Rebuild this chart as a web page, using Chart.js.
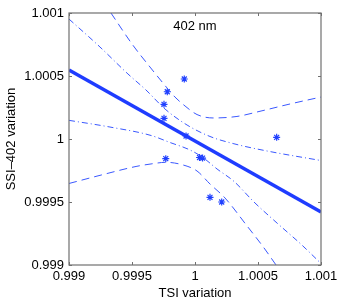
<!DOCTYPE html>
<html><head><meta charset="utf-8">
<script src="https://cdn.jsdelivr.net/npm/chart.js@4/dist/chart.umd.min.js"></script>
<style>html,body{margin:0;padding:0;background:#fff}canvas{display:block}</style>
</head><body>
<canvas id="c" width="343" height="306"></canvas>
<script>
const xTickValues = [0.999, 0.9995, 1, 1.0005, 1.001];
const xTickLabels = ['0.999', '0.9995', '1', '1.0005', '1.001'];
const yTickValues = [0.999, 0.9995, 1, 1.0005, 1.001];
const yTickLabels = ['0.999', '0.9995', '1', '1.0005', '1.001'];

const obsTSI = [0.999915, 0.999780, 0.999754, 0.999754, 0.999929, 0.999768, 1.000036, 1.000060, 1.000119, 1.000212, 1.000648];
const obsSSI = [1.000476, 1.000375, 1.000275, 1.000164, 1.000024, 0.999844, 0.999853, 0.999849, 0.999537, 0.999500, 1.000013];

const fitTSI = [0.999, 1.001];
const fitSSI = [1.000548, 0.999421];

const innerUpTSI = [0.999, 0.999246, 0.999468, 0.999611, 0.999762, 0.999937, 1.000119, 1.000302, 1.000571, 1.001];
const innerUpSSI = [1.000952, 1.000730, 1.000516, 1.000389, 1.000238, 1.000111, 1.000020, 0.999964, 0.999905, 0.999829];
const innerLoTSI = [0.999, 0.999325, 0.999651, 0.999802, 0.999960, 1.000063, 1.000175, 1.000310, 1.000468, 1.000651, 1.000839, 1.001];
const innerLoSSI = [1.000148, 1.000095, 1.000028, 0.999972, 0.999913, 0.999853, 0.999762, 0.999663, 0.999500, 0.999333, 0.999167, 0.999012];

const outerUpTSI = [0.999333, 0.999506, 0.999643, 0.999746, 0.999841, 0.999921, 1.000016, 1.000143, 1.000333, 1.000524, 1.000754, 1.001];
const outerUpSSI = [1.001, 1.000746, 1.000571, 1.000444, 1.000333, 1.000262, 1.000194, 1.000167, 1.000179, 1.000222, 1.000278, 1.000333];
const outerLoTSI = [0.999, 0.999267, 0.999532, 0.999651, 0.999770, 0.999905, 1.000016, 1.000119, 1.000238, 1.000413, 1.000548, 1.000643];
const outerLoSSI = [0.999647, 0.999717, 0.999782, 0.999802, 0.999815, 0.999794, 0.999746, 0.999643, 0.999532, 0.999310, 0.999135, 0.999];

const panelLabel = '402 nm';
const xTitle = 'TSI variation';
const yTitle = 'SSI\u2013402 variation';

const pts = (xs, ys) => xs.map((x, i) => ({x: x, y: ys[i]}));
const FONT = {family: '"Liberation Sans", Arial, Helvetica, sans-serif', size: 13};

const thin = '#3a58ff';
function curve(xs, ys, dash) {
  return {data: pts(xs, ys), showLine: true, pointRadius: 0, borderColor: thin, borderWidth: 1,
    borderDash: dash, cubicInterpolationMode: 'monotone', fill: false};
}

const framePlugin = {
  id: 'frame',
  afterDatasetsDraw(chart) {
    const {ctx, chartArea: a, scales} = chart;
    ctx.save();
    ctx.strokeStyle = '#707070';
    ctx.lineWidth = 1.2;
    ctx.strokeRect(a.left, a.top, a.right - a.left, a.bottom - a.top);
    ctx.lineWidth = 1;
    const L = 3;
    scales.x.ticks.forEach(t => {
      const p = Math.round(scales.x.getPixelForValue(t.value)) + 0.5;
      ctx.beginPath();
      ctx.moveTo(p, a.bottom); ctx.lineTo(p, a.bottom - L);
      ctx.moveTo(p, a.top); ctx.lineTo(p, a.top + L);
      ctx.stroke();
    });
    scales.y.ticks.forEach(t => {
      const p = Math.round(scales.y.getPixelForValue(t.value)) + 0.5;
      ctx.beginPath();
      ctx.moveTo(a.left, p); ctx.lineTo(a.left + L, p);
      ctx.moveTo(a.right, p); ctx.lineTo(a.right - L, p);
      ctx.stroke();
    });
    ctx.fillStyle = '#000';
    ctx.font = '13px ' + FONT.family;
    ctx.textAlign = 'center';
    ctx.textBaseline = 'middle';
    ctx.fillText(panelLabel, (a.left + a.right) / 2, a.top + 13);
    ctx.restore();
  }
};

new Chart(document.getElementById('c'), {
  type: 'scatter',
  data: {
    datasets: [
      curve(outerUpTSI, outerUpSSI, [8, 5]),
      curve(outerLoTSI, outerLoSSI, [8, 5]),
      curve(innerUpTSI, innerUpSSI, [6, 3, 1, 3]),
      curve(innerLoTSI, innerLoSSI, [6, 3, 1, 3]),
      {data: pts(fitTSI, fitSSI), showLine: true, pointRadius: 0, borderColor: '#1f3cff', borderWidth: 3.5},
      {data: pts(obsTSI, obsSSI), showLine: false, pointStyle: 'star', pointRadius: 3.5,
        borderColor: '#2040ff', backgroundColor: '#2040ff', borderWidth: 1.2}
    ]
  },
  options: {
    responsive: false,
    devicePixelRatio: 1,
    animation: false,
    events: [],
    layout: {padding: {left: 0, right: 22, top: 13, bottom: 0}},
    plugins: {legend: {display: false}, tooltip: {enabled: false}},
    scales: {
      x: {
        type: 'linear', min: 0.999, max: 1.001,
        afterBuildTicks: s => { s.ticks = xTickValues.map(v => ({value: v})); },
        afterFit: s => { s.height = 41; },
        grid: {display: false, drawTicks: false},
        border: {display: false},
        ticks: {autoSkip: false, maxRotation: 0, color: '#000', font: FONT, padding: 4,
          callback: (v, i) => xTickLabels[i]},
        title: {display: true, text: xTitle, color: '#000', font: FONT, padding: {top: 0, bottom: 5}}
      },
      y: {
        type: 'linear', min: 0.999, max: 1.001,
        afterBuildTicks: s => { s.ticks = yTickValues.map(v => ({value: v})); },
        afterFit: s => { s.width = 69; },
        grid: {display: false, drawTicks: false},
        border: {display: false},
        ticks: {autoSkip: false, color: '#000', font: FONT, padding: 5,
          callback: (v, i) => yTickLabels[i]},
        title: {display: true, text: yTitle, color: '#000', font: FONT, padding: {top: 4, bottom: 0}}
      }
    }
  },
  plugins: [framePlugin]
});
</script>
</body></html>
